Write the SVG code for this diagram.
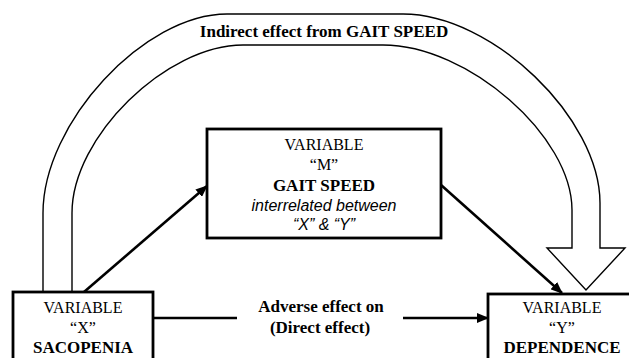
<svg xmlns="http://www.w3.org/2000/svg" width="629" height="358" viewBox="0 0 629 358">
<style>
.box{fill:#fff;stroke:#000;stroke-width:2.8}
.t{font-family:"Liberation Serif","Times New Roman",serif;font-size:16px;fill:#000;text-anchor:middle}
.b{font-family:"Liberation Serif","Times New Roman",serif;font-size:17px;font-weight:bold;fill:#000;text-anchor:middle}
.i{font-family:"Liberation Sans",Arial,sans-serif;font-size:16px;font-style:italic;fill:#000;text-anchor:middle}
.ln{fill:none;stroke:#000;stroke-width:2.6}
.big{fill:#fff;stroke:#000;stroke-width:1.4;stroke-linejoin:miter}
</style>
<defs>
<marker id="ah" markerUnits="userSpaceOnUse" markerWidth="12" markerHeight="10" refX="11" refY="5" orient="auto">
<path d="M0,0 L12,5 L0,10 Z" fill="#000"/>
</marker>
</defs>
<rect width="629" height="358" fill="#fff"/>
<g id="indirect-arrow">
<path class="big" d="M43,292 V213 C43,123 144,14 227,14 H403 C492,14 600,118 600,203 V248 H625 L586,290 L547,248 H572 V210 C572,136 468,45 383,45 H243 C166,45 72,137 72,213 V292 Z"/>
<text class="b" x="324" y="37">Indirect effect from GAIT SPEED</text>
</g>
<g id="connectors">
<line class="ln" x1="84" y1="292" x2="207" y2="186" marker-end="url(#ah)"/>
<line class="ln" x1="441" y1="185" x2="562" y2="293" marker-end="url(#ah)"/>
<line class="ln" x1="153" y1="318" x2="237" y2="318"/>
<line class="ln" x1="403" y1="318" x2="488" y2="318" marker-end="url(#ah)"/>
<text class="b" x="321" y="312">Adverse effect on</text>
<text class="b" x="320" y="333">(Direct effect)</text>
</g>
<g id="node-m">
<rect class="box" x="207" y="129" width="234" height="109"/>
<text class="t" x="324" y="150">VARIABLE</text>
<text class="t" x="324" y="170">“M”</text>
<text class="b" x="324" y="191">GAIT SPEED</text>
<text class="i" x="324" y="211">interrelated between</text>
<text class="i" x="324" y="230">“X” &amp; “Y”</text>
</g>
<g id="node-x">
<rect class="box" x="13" y="292" width="140" height="80"/>
<text class="t" x="83" y="313">VARIABLE</text>
<text class="t" x="83" y="333">“X”</text>
<text class="b" x="83" y="353">SACOPENIA</text>
</g>
<g id="node-y">
<rect class="box" x="488" y="294" width="150" height="80"/>
<text class="t" x="562" y="313">VARIABLE</text>
<text class="t" x="562" y="333">“Y”</text>
<text class="b" x="562" y="353">DEPENDENCE</text>
</g>
</svg>
